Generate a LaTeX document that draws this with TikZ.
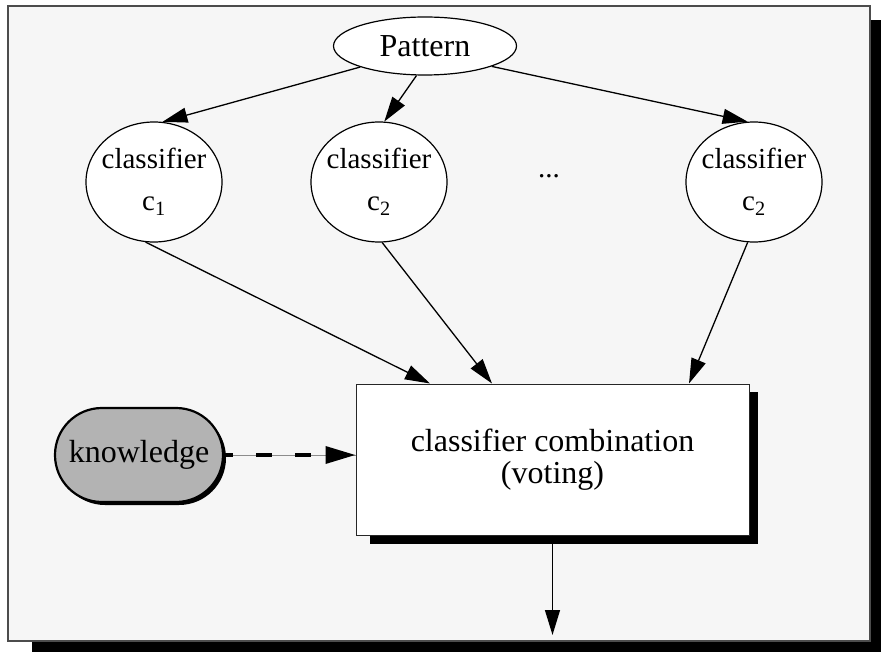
\documentclass[tikz,border=0pt]{standalone}
\usepackage{fontspec}
\setmainfont{Liberation Serif}
\usetikzlibrary{arrows.meta,shapes.geometric,shadows,backgrounds}
\definecolor{panel}{HTML}{F6F6F6}
\definecolor{knowfill}{HTML}{B3B3B3}

\begin{document}
\begin{tikzpicture}[x=1pt,y=-1pt,
  every node/.style={font=\fontsize{32}{32}\selectfont},
  edge/.style={line width=1.3pt,-{Triangle[length=25pt,width=15pt]}},
  patnode/.style={ellipse,draw,line width=1.2pt,fill=white,
    minimum width=183pt,minimum height=58pt,inner sep=0pt},
  clf/.style={ellipse,draw,line width=1.2pt,fill=white,
    minimum width=136pt,minimum height=120pt,inner sep=0pt,
    align=center,font=\fontsize{29}{42}\selectfont},
  combbox/.style={rectangle,draw=black!85,line width=1pt,fill=white,
    minimum width=393pt,minimum height=151pt,inner sep=0pt,align=center},
  knowbox/.style={rectangle,rounded corners=46.9pt,draw,line width=2.2pt,
    fill=knowfill,minimum width=168pt,minimum height=94pt,inner sep=0pt,
    drop shadow={shadow xshift=3pt,shadow yshift=-3pt,fill=black,opacity=1}}
]
\useasboundingbox (0,0) rectangle (881,652);

% nodes
\node[patnode] (pat) at (425,46) {Pattern};
\node[clf] (c1) at (154,182) {\makebox[0pt]{classifier}\\\makebox[0pt]{c\textsubscript{1}}};
\node[clf] (c2) at (379,182) {\makebox[0pt]{classifier}\\\makebox[0pt]{c\textsubscript{2}}};
\node[clf] (c3) at (754,182) {\makebox[0pt]{classifier}\\\makebox[0pt]{c\textsubscript{2}}};
\node[font=\fontsize{29}{29}\selectfont] (dots) at (549,176) {...};
\node[combbox] (box) at (552.5,459.5) {classifier combination\\(voting)};
\node[knowbox] (know) at (139,455) {knowledge};
\coordinate (out) at (552.5,635);

% connectors
\draw[edge] (pat.198) -- (c1.82);
\draw[edge] (pat.254) -- (c2.85);
\draw[edge] (pat.343) -- (c3.96);
\draw[edge] (c1.262) -- ([xshift=-122.5pt]box.north);
\draw[edge] (c2.273) -- ([xshift=-60.5pt]box.north);
\draw[edge] (c3.264) -- ([xshift=136.5pt]box.north);
\draw[edge] (box.south) -- (out);
\draw[black!45,line width=0.6pt] (know.east) -- (know.east -| box.west);
\draw[line width=3.5pt,dash pattern=on 16pt off 23pt,dash phase=7pt,
  -{Triangle[length=30pt,width=17pt]}] (know.east) -- (know.east -| box.west);

% panel, its shadow and the box shadow
\begin{scope}[on background layer]
  \fill[black] (32,20) rectangle (881,652);
  \filldraw[fill=panel,draw=black!70,line width=1.5pt] (8,6) rectangle (870,641);
  \fill[black] ([xshift=14pt,yshift=-8pt]box.north west) rectangle ([xshift=8pt,yshift=-8pt]box.south east);
\end{scope}
\end{tikzpicture}
\end{document}
